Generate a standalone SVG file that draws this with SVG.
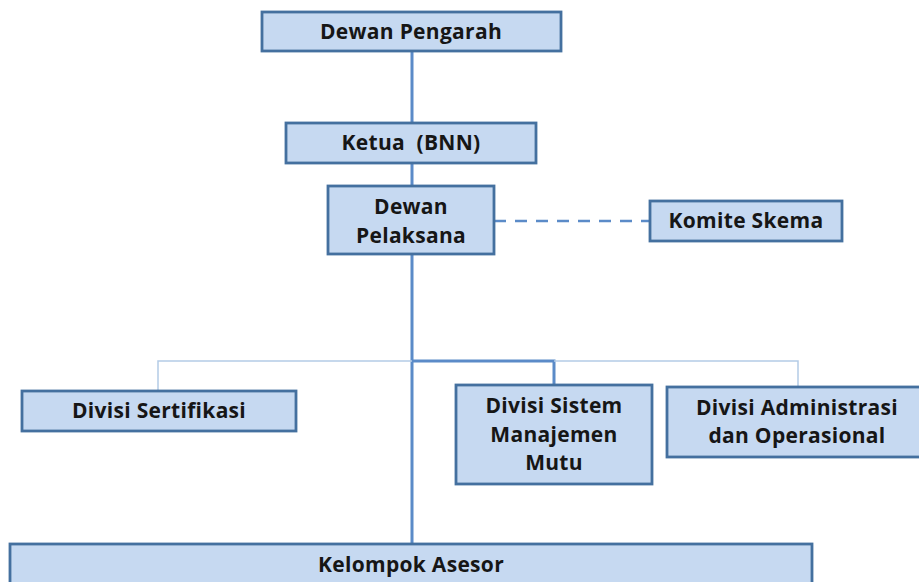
<svg xmlns="http://www.w3.org/2000/svg" width="919" height="582" viewBox="0 0 919 582">
<style>
.box{fill:#C6D9F1;stroke:#44709F;stroke-width:2.8}
.t{font-family:"Open Sans","Liberation Sans",sans-serif;font-weight:bold;font-size:21px;letter-spacing:0.3px;fill:#161616;text-anchor:middle;dominant-baseline:central;white-space:pre}
.main{stroke:#5B8BC8;stroke-width:3;fill:none}
.thin{stroke:#B4CBE6;stroke-width:1.5;fill:none}
.dash{stroke:#5B8BC8;stroke-width:2.5;fill:none;stroke-dasharray:12 9}
</style>
<rect width="919" height="582" fill="#fff"/>
<g id="connectors">
<line class="main" x1="412" y1="51" x2="412" y2="123"/>
<line class="main" x1="412" y1="163" x2="412" y2="186"/>
<line class="main" x1="412" y1="254" x2="412" y2="544"/>
<line class="dash" x1="494" y1="221" x2="650" y2="221"/>
<polyline class="thin" points="158,391 158,361 412,361"/>
<polyline class="main" points="412,361 554,361 554,385"/>
<polyline class="thin" points="554,361 798,361 798,387"/>
</g>
<g id="dewan-pengarah">
<rect class="box" x="262" y="12" width="299" height="39"/>
<text class="t" x="411" y="31">Dewan Pengarah</text>
</g>
<g id="ketua">
<rect class="box" x="286" y="123" width="250" height="40"/>
<text class="t" x="411" y="142" xml:space="preserve">Ketua  (BNN)</text>
</g>
<g id="dewan-pelaksana">
<rect class="box" x="328" y="186" width="166" height="68"/>
<text class="t" x="411" y="206">Dewan</text>
<text class="t" x="411" y="235">Pelaksana</text>
</g>
<g id="komite-skema">
<rect class="box" x="650" y="201" width="192" height="40"/>
<text class="t" x="746" y="220">Komite Skema</text>
</g>
<g id="divisi-sertifikasi">
<rect class="box" x="22" y="391" width="274" height="40"/>
<text class="t" x="159" y="410">Divisi Sertifikasi</text>
</g>
<g id="divisi-sistem">
<rect class="box" x="456" y="385" width="196" height="99"/>
<text class="t" x="554" y="405">Divisi Sistem</text>
<text class="t" x="554" y="434">Manajemen</text>
<text class="t" x="554" y="462">Mutu</text>
</g>
<g id="divisi-administrasi">
<rect class="box" x="667" y="387" width="260" height="70"/>
<text class="t" x="797" y="407">Divisi Administrasi</text>
<text class="t" x="797" y="435">dan Operasional</text>
</g>
<g id="kelompok-asesor">
<rect class="box" x="10" y="544" width="802" height="45"/>
<text class="t" x="411" y="564">Kelompok Asesor</text>
</g>
</svg>
